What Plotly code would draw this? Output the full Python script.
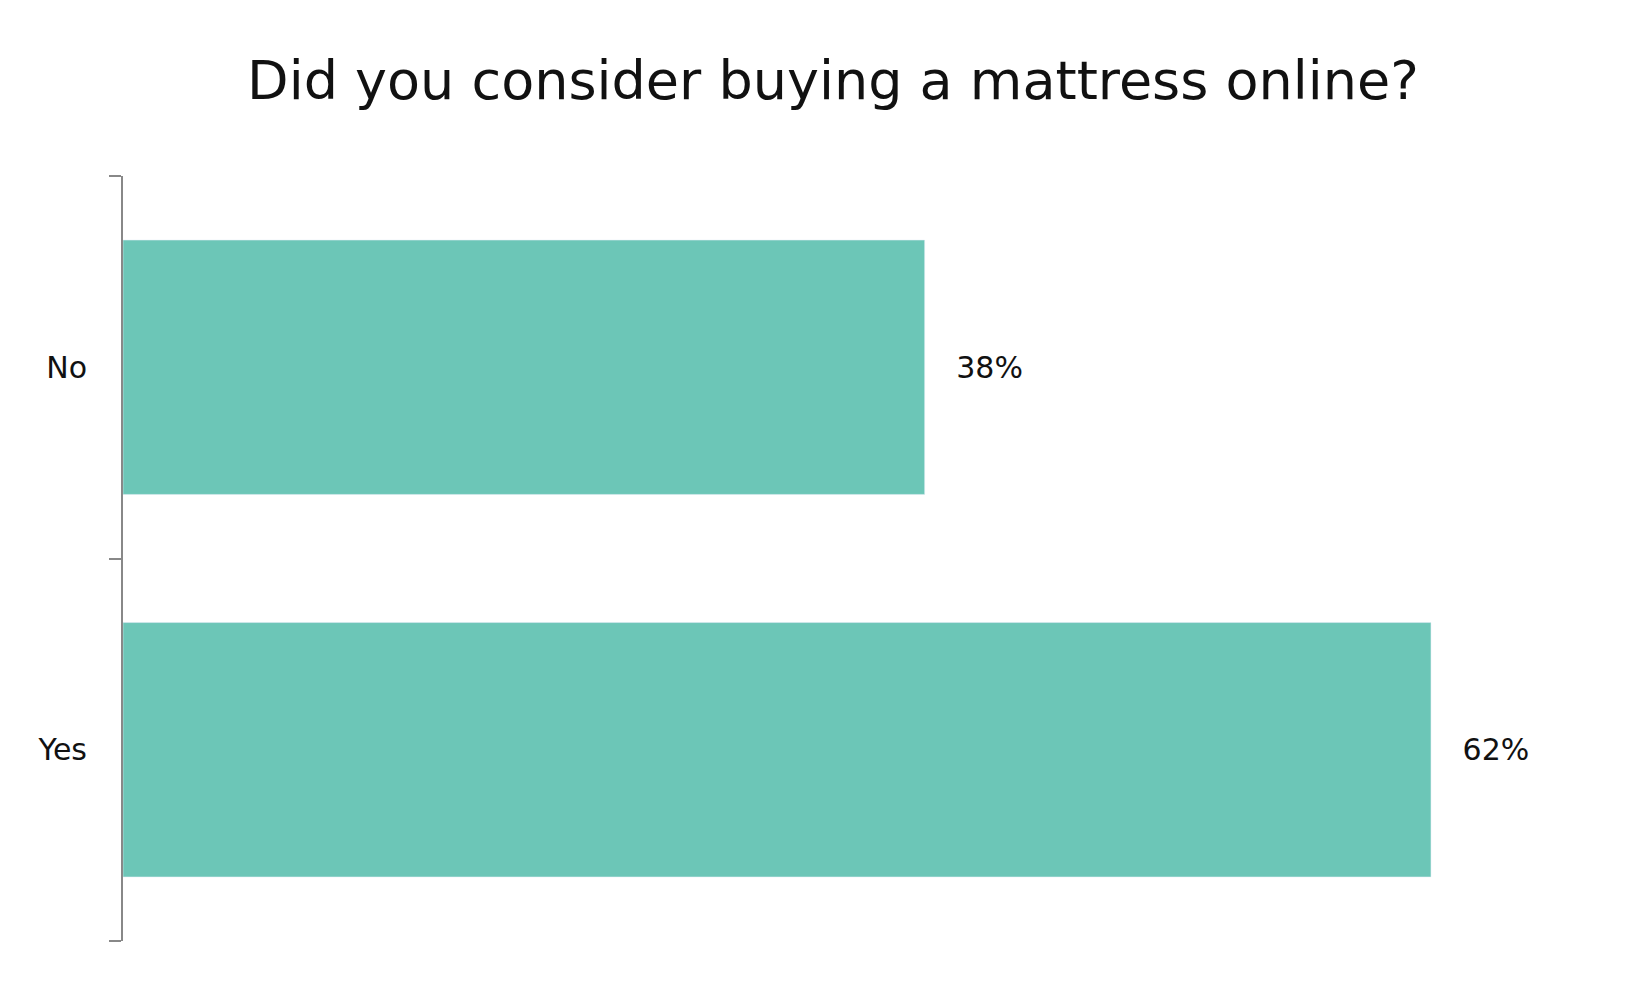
import plotly.graph_objects as go

answers = ["Yes", "No"]
shares = [62, 38]
labels = ["62%", "38%"]

fig = go.Figure()
fig.add_trace(go.Bar(
    x=shares, y=answers, orientation="h",
    text=labels, textposition="outside", texttemplate="   %{text}",
    textfont=dict(size=30, color="#111111"),
    marker=dict(color="#6CC6B7"),
    cliponaxis=False,
))

fig.update_layout(
    width=1650, height=991,
    paper_bgcolor="white", plot_bgcolor="white",
    font=dict(family="DejaVu Sans", color="#111111"),
    title=dict(text="Did you consider buying a mattress online?", x=0.5, xanchor="center",
               y=0.927, yanchor="middle", font=dict(size=54, color="#111111")),
    margin=dict(l=115, r=130, t=168, b=58),
    bargap=0.335,
    showlegend=False,
)
fig.update_xaxes(range=[0, 66.6], visible=False)
fig.update_yaxes(
    showline=True, linecolor="#888888", linewidth=2,
    ticks="outside", tickson="boundaries", ticklen=12, tickcolor="#888888", tickwidth=2,
    tickfont=dict(size=30, color="#111111"), ticklabelstandoff=28,
)

fig.write_html("out.html")
